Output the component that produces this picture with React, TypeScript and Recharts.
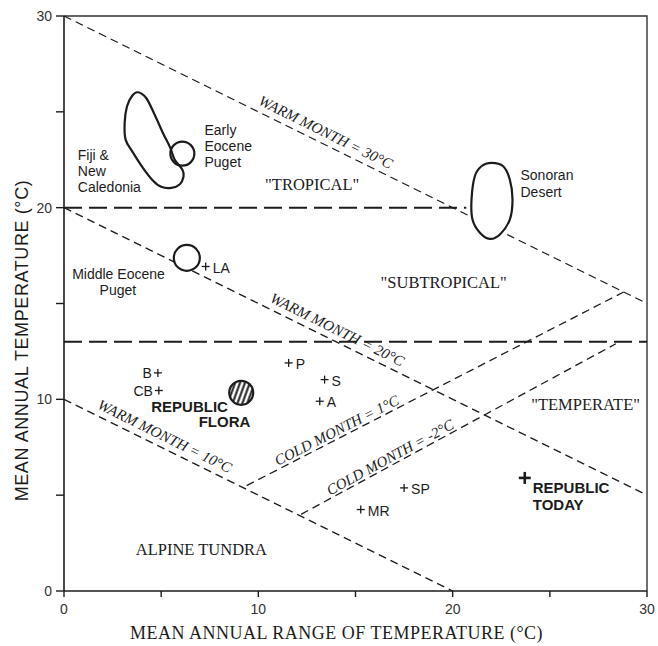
import React from "react"
import { ComposedChart, Label, Scatter, XAxis, YAxis } from "recharts"

// axis ticks (°C)
const axisTicks = [0, 5, 10, 15, 20, 25, 30]

// climate isolines: x = mean annual range, y = mean annual temperature
const warmMonth30 = [{ x: 0, y: 30 }, { x: 30, y: 15 }]
const warmMonth20 = [{ x: 0, y: 20 }, { x: 30, y: 5 }]
const warmMonth10 = [{ x: 0, y: 10 }, { x: 20, y: 0 }]
const coldMonth1 = [{ x: 9.4, y: 5.5 }, { x: 28.8, y: 15.6 }]
const coldMonthMinus2 = [{ x: 12.2, y: 4.0 }, { x: 28.4, y: 12.9 }]
const tropicalLimit = [{ x: 0, y: 20 }, { x: 20.7, y: 20 }]
const temperateLimit = [{ x: 0, y: 13 }, { x: 30, y: 13 }]
const frame = [{ x: 0, y: 30 }, { x: 30, y: 30 }, { x: 30, y: 0 }]

// outlines of modern / fossil floras
const fijiOutline = [
  { x: 3.8, y: 26.02 }, { x: 4.23, y: 25.72 }, { x: 4.66, y: 24.86 }, { x: 5.09, y: 23.9 },
  { x: 5.47, y: 23.12 }, { x: 5.69, y: 22.51 }, { x: 6.09, y: 21.99 }, { x: 6.15, y: 21.61 },
  { x: 5.95, y: 21.21 }, { x: 5.52, y: 21.03 }, { x: 5.0, y: 21.09 }, { x: 4.57, y: 21.42 },
  { x: 4.06, y: 22.08 }, { x: 3.51, y: 22.94 }, { x: 3.17, y: 23.55 }, { x: 3.12, y: 24.41 },
  { x: 3.24, y: 25.28 }, { x: 3.51, y: 25.84 },
]
const sonoranOutline = [
  { x: 22.0, y: 22.34 }, { x: 22.6, y: 22.16 }, { x: 22.94, y: 21.47 }, { x: 23.08, y: 20.43 },
  { x: 22.94, y: 19.38 }, { x: 22.43, y: 18.6 }, { x: 21.91, y: 18.37 }, { x: 21.4, y: 18.69 },
  { x: 21.02, y: 19.38 }, { x: 20.97, y: 20.43 }, { x: 21.14, y: 21.64 }, { x: 21.48, y: 22.16 },
]
const earlyEocenePuget = [{ x: 6.09, y: 22.82 }]
const middleEocenePuget = [{ x: 6.32, y: 17.38 }]
const republicFlora = [{ x: 9.12, y: 10.34 }]

// fossil / modern sites
const sitesRight = [
  { x: 7.29, y: 16.93, name: "LA" },
  { x: 11.56, y: 11.9, name: "P" },
  { x: 13.41, y: 11.03, name: "S" },
  { x: 13.16, y: 9.9, name: "A" },
  { x: 17.5, y: 5.38, name: "SP" },
  { x: 15.27, y: 4.25, name: "MR" },
]
const sitesLeft = [
  { x: 4.83, y: 11.38, name: "B" },
  { x: 4.88, y: 10.46, name: "CB" },
]
const republicToday = [{ x: 23.71, y: 5.9, lines: ["REPUBLIC", "TODAY"] }]

// text
const regionNames = [
  { x: 12.77, y: 21.2, text: '"TROPICAL"' },
  { x: 19.54, y: 16.08, text: '"SUBTROPICAL"' },
  { x: 26.84, y: 9.73, text: '"TEMPERATE"' },
  { x: 7.07, y: 2.16, text: "ALPINE TUNDRA" },
]
const floraNames = [
  { x: 0.71, y: 22.77, lines: ["Fiji &", "New", "Caledonia"] },
  { x: 7.23, y: 24.07, lines: ["Early", "Eocene", "Puget"] },
  { x: 23.49, y: 21.69, lines: ["Sonoran", "Desert"] },
  { x: 0.42, y: 16.55, lines: ["Middle Eocene"] },
  { x: 1.83, y: 15.68, lines: ["Puget"] },
]
const republicFloraName = [
  { x: 4.49, y: 9.61, text: "REPUBLIC" },
  { x: 6.93, y: 8.86, text: "FLORA" },
]
const warmMonthNames = [
  { x: 13.2, y: 23.4, text: "WARM MONTH = 30°C" },
  { x: 13.8, y: 13.1, text: "WARM MONTH = 20°C" },
  { x: 4.92, y: 7.54, text: "WARM MONTH = 10°C" },
]
const coldMonth1Name = [{ x: 14.22, y: 8.01, text: "COLD MONTH = 1°C" }]
const coldMonthMinus2Name = [{ x: 16.98, y: 6.61, text: "COLD MONTH = -2°C" }]

const INK = "#1c1c1c"
const SANS = "'Liberation Sans', Arial, sans-serif"
const SERIF = "'Liberation Serif', 'Times New Roman', serif"

const noDot = () => <g />

function smoothClosedPath(pts: { x: number; y: number }[]) {
  const n = pts.length
  let d = `M${pts[0].x},${pts[0].y}`
  for (let i = 0; i < n; i++) {
    const p0 = pts[(i - 1 + n) % n]
    const p1 = pts[i]
    const p2 = pts[(i + 1) % n]
    const p3 = pts[(i + 2) % n]
    d += ` C${p1.x + (p2.x - p0.x) / 6},${p1.y + (p2.y - p0.y) / 6} ${p2.x - (p3.x - p1.x) / 6},${p2.y - (p3.y - p1.y) / 6} ${p2.x},${p2.y}`
  }
  return d + "Z"
}

const blobLine = (props: any) => (
  <path d={smoothClosedPath(props.points)} fill="#fff" stroke={INK} strokeWidth={2.2} />
)

const dashedThin = { stroke: INK, strokeWidth: 1.3, strokeDasharray: "8 5" }
const dashedThick = { stroke: INK, strokeWidth: 2, strokeDasharray: "18 7" }

const plusShape = (props: any) => {
  const { cx, cy } = props
  return (
    <g stroke={INK} strokeWidth={1.3}>
      <line x1={cx - 4} y1={cy} x2={cx + 4} y2={cy} />
      <line x1={cx} y1={cy - 4} x2={cx} y2={cy + 4} />
    </g>
  )
}

const siteRight = (props: any) => (
  <g>
    {plusShape(props)}
    <text x={props.cx + 7} y={props.cy + 1} dominantBaseline="central" fontSize={14} fontFamily={SANS} fill={INK}>
      {props.payload.name}
    </text>
  </g>
)

const siteLeft = (props: any) => (
  <g>
    {plusShape(props)}
    <text x={props.cx - 6} y={props.cy} textAnchor="end" dominantBaseline="central" fontSize={14} fontFamily={SANS} fill={INK}>
      {props.payload.name}
    </text>
  </g>
)

const republicTodayShape = (props: any) => {
  const { cx, cy, payload } = props
  return (
    <g>
      <g stroke={INK} strokeWidth={2.6}>
        <line x1={cx - 6} y1={cy} x2={cx + 6} y2={cy} />
        <line x1={cx} y1={cy - 6} x2={cx} y2={cy + 6} />
      </g>
      {payload.lines.map((t: string, i: number) => (
        <text key={t} x={cx + 8} y={cy + 10 + i * 16.7} dominantBaseline="central" fontSize={15} fontWeight="bold" fontFamily={SANS} fill={INK}>
          {t}
        </text>
      ))}
    </g>
  )
}

const circleShape = (r: number, fill: string) => (props: any) => (
  <circle cx={props.cx} cy={props.cy} r={r} fill={fill} stroke={INK} strokeWidth={2.2} />
)

const hatchedCircle = (props: any) => (
  <g>
    <defs>
      <pattern id="hatch" patternUnits="userSpaceOnUse" width={4.6} height={4.6} patternTransform="rotate(20)">
        <rect width={4.6} height={4.6} fill="#fff" />
        <line x1={2.3} y1={0} x2={2.3} y2={4.6} stroke={INK} strokeWidth={2} />
      </pattern>
    </defs>
    <circle cx={props.cx} cy={props.cy} r={12} fill="url(#hatch)" stroke={INK} strokeWidth={2.2} />
  </g>
)

const regionText = (props: any) => (
  <text x={props.cx} y={props.cy} textAnchor="middle" dominantBaseline="central" fontSize={16.5} fontFamily={SERIF} fill={INK}>
    {props.payload.text}
  </text>
)

const floraText = (props: any) => (
  <g>
    {props.payload.lines.map((t: string, i: number) => (
      <text key={t} x={props.cx} y={props.cy + i * 16.4} dominantBaseline="central" fontSize={14} fontFamily={SANS} fill={INK}>
        {t}
      </text>
    ))}
  </g>
)

const boldText = (props: any) => (
  <text x={props.cx} y={props.cy} dominantBaseline="central" fontSize={15} fontWeight="bold" fontFamily={SANS} fill={INK}>
    {props.payload.text}
  </text>
)

const isolineText = (angle: number, lift: number) => (props: any) => (
  <text
    x={props.cx}
    y={props.cy}
    dy={-lift}
    transform={`rotate(${angle} ${props.cx} ${props.cy})`}
    textAnchor="middle"
    dominantBaseline="central"
    fontSize={15}
    fontStyle="italic"
    fontFamily={SERIF}
    fill={INK}
  >
    {props.payload.text}
  </text>
)

const xTitle = (props: any) => {
  const vb = props.viewBox
  return (
    <text x={vb.x + vb.width / 2 - 19} y={vb.y + 48} textAnchor="middle" fontSize={18} letterSpacing={0.5} fontFamily={SERIF} fill={INK}>
      MEAN ANNUAL RANGE OF TEMPERATURE (°C)
    </text>
  )
}

const yTitle = (props: any) => {
  const vb = props.viewBox
  const x = vb.x + 22
  const y = vb.y + vb.height / 2 + 37
  return (
    <text x={x} y={y} transform={`rotate(-90 ${x} ${y})`} textAnchor="middle" dominantBaseline="central" fontSize={18} letterSpacing={0.6} fontFamily={SANS} fill={INK}>
      MEAN ANNUAL TEMPERATURE (°C)
    </text>
  )
}

const tickLabel = (v: number) => (v % 10 === 0 ? String(v) : "")
const tickStyle = { fontSize: 14, fill: "#333", fontFamily: SANS }

export default function App() {
  return (
    <div style={{ position: "absolute", left: 0, top: 0, background: "#fff" }}>
      <ComposedChart width={658} height={646} margin={{ top: 16, right: 11, bottom: 0, left: 0 }}>
        <XAxis
          type="number"
          dataKey="x"
          domain={[0, 30]}
          ticks={axisTicks}
          interval={0}
          tickFormatter={tickLabel}
          height={55}
          tickSize={6}
          tickMargin={7}
          tick={tickStyle}
          axisLine={{ stroke: INK, strokeWidth: 1.6 }}
          tickLine={{ stroke: INK, strokeWidth: 1.4 }}
        >
          <Label content={xTitle} />
        </XAxis>
        <YAxis
          type="number"
          dataKey="y"
          domain={[0, 30]}
          ticks={axisTicks}
          interval={0}
          tickFormatter={tickLabel}
          width={64}
          tickSize={8}
          tickMargin={4}
          tick={tickStyle}
          axisLine={{ stroke: INK, strokeWidth: 1.6 }}
          tickLine={{ stroke: INK, strokeWidth: 1.4 }}
        >
          <Label content={yTitle} />
        </YAxis>

        <Scatter data={frame} line={{ stroke: "#333", strokeWidth: 1.4 }} shape={noDot} isAnimationActive={false} />
        <Scatter data={warmMonth30} line={dashedThin} shape={noDot} isAnimationActive={false} />
        <Scatter data={warmMonth20} line={dashedThin} shape={noDot} isAnimationActive={false} />
        <Scatter data={warmMonth10} line={dashedThin} shape={noDot} isAnimationActive={false} />
        <Scatter data={coldMonth1} line={dashedThin} shape={noDot} isAnimationActive={false} />
        <Scatter data={coldMonthMinus2} line={dashedThin} shape={noDot} isAnimationActive={false} />
        <Scatter data={tropicalLimit} line={dashedThick} shape={noDot} isAnimationActive={false} />
        <Scatter data={temperateLimit} line={dashedThick} shape={noDot} isAnimationActive={false} />

        <Scatter data={fijiOutline} line={blobLine} shape={noDot} isAnimationActive={false} />
        <Scatter data={sonoranOutline} line={blobLine} shape={noDot} isAnimationActive={false} />
        <Scatter data={earlyEocenePuget} shape={circleShape(12, "none")} isAnimationActive={false} />
        <Scatter data={middleEocenePuget} shape={circleShape(13, "#fff")} isAnimationActive={false} />
        <Scatter data={republicFlora} shape={hatchedCircle} isAnimationActive={false} />

        <Scatter data={sitesRight} shape={siteRight} isAnimationActive={false} />
        <Scatter data={sitesLeft} shape={siteLeft} isAnimationActive={false} />
        <Scatter data={republicToday} shape={republicTodayShape} isAnimationActive={false} />

        <Scatter data={regionNames} shape={regionText} isAnimationActive={false} />
        <Scatter data={floraNames} shape={floraText} isAnimationActive={false} />
        <Scatter data={republicFloraName} shape={boldText} isAnimationActive={false} />
        <Scatter data={warmMonthNames} shape={isolineText(26.3, 11.5)} isAnimationActive={false} />
        <Scatter data={coldMonth1Name} shape={isolineText(-27, 8)} isAnimationActive={false} />
        <Scatter data={coldMonthMinus2Name} shape={isolineText(-28.5, 8)} isAnimationActive={false} />
      </ComposedChart>
    </div>
  )
}
